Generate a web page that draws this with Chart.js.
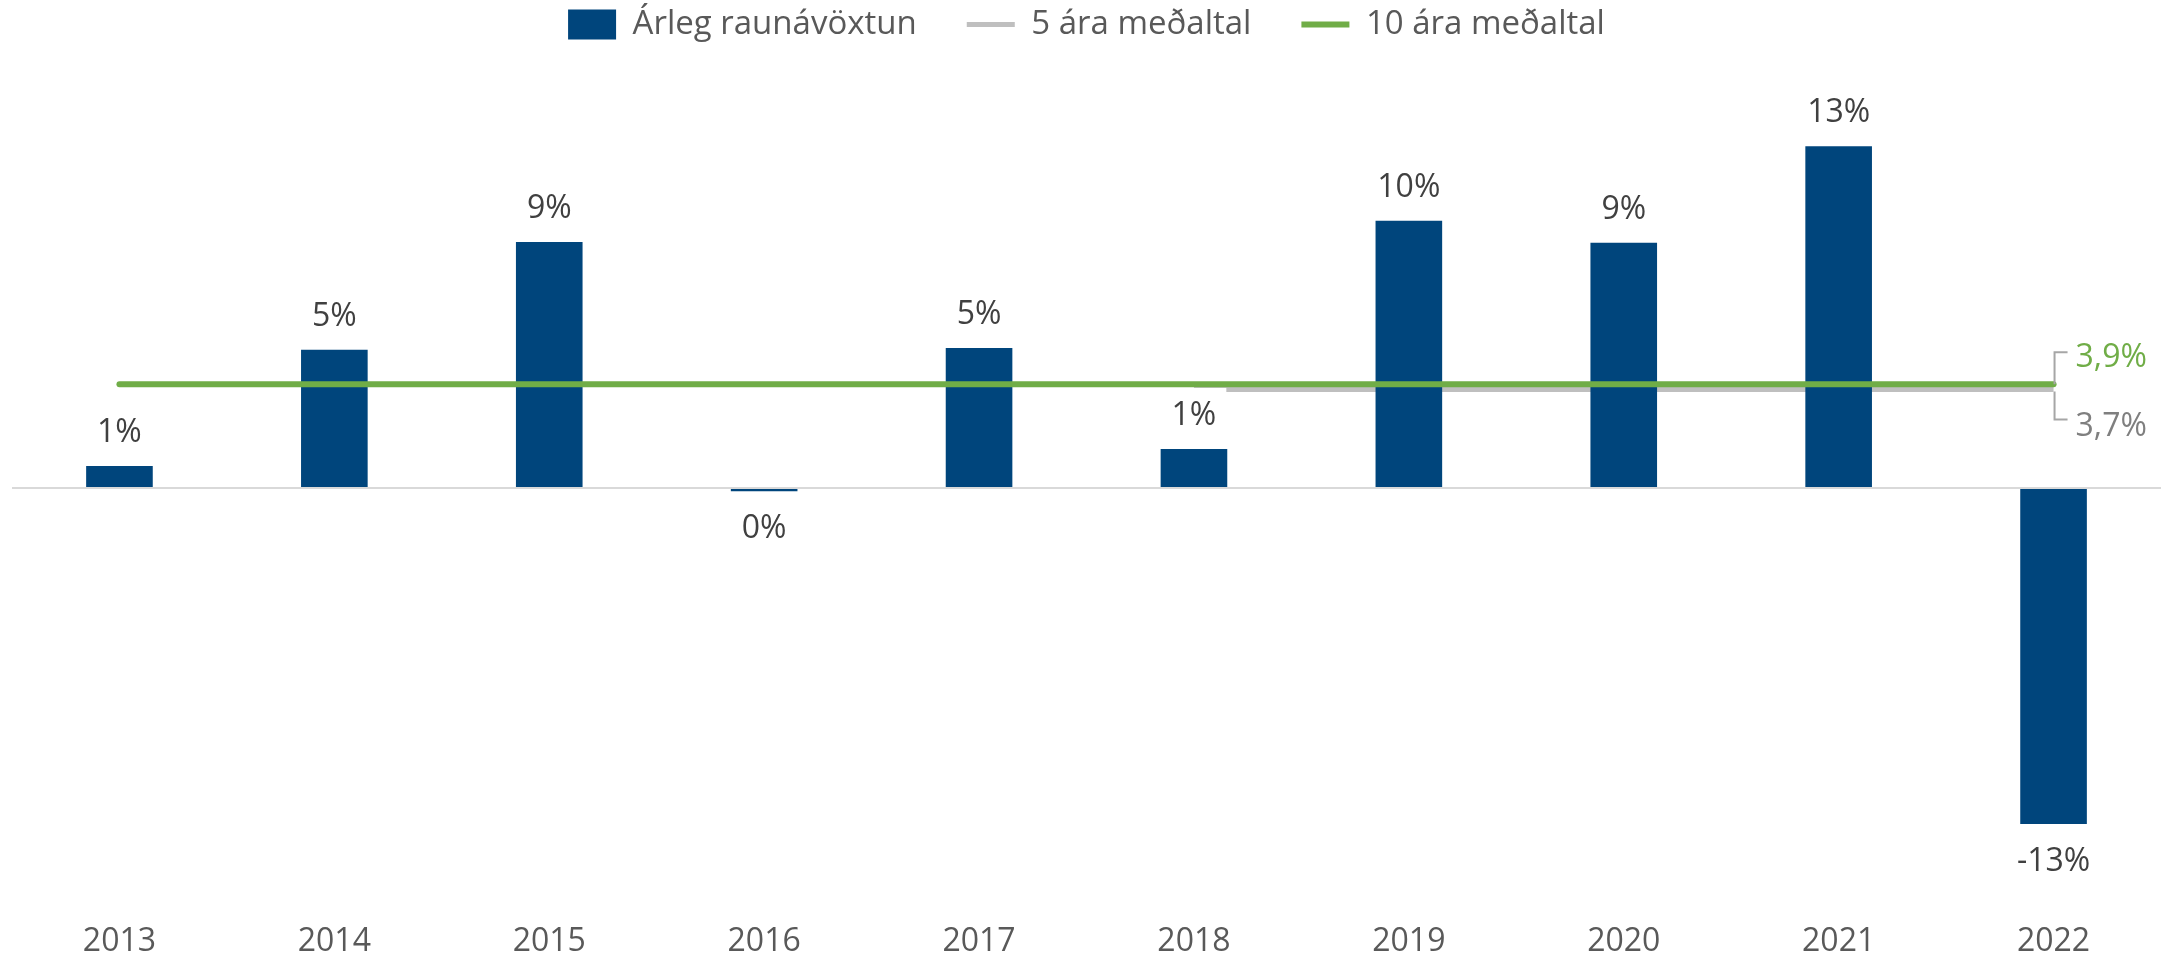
<!DOCTYPE html>
<html>
<head>
<meta charset="utf-8">
<script src="https://cdn.jsdelivr.net/npm/chart.js@4"></script>
<style>
  html, body { margin: 0; padding: 0; background: #fff; }
  #wrap { width: 2175px; height: 957px; }
</style>
</head>
<body>
<div id="wrap"><canvas id="chart" width="2175" height="957"></canvas></div>
<script>
const years = ['2013', '2014', '2015', '2016', '2017', '2018', '2019', '2020', '2021', '2022'];
const annualReturn = [0.83, 5.2, 9.25, -0.12, 5.26, 1.47, 10.05, 9.22, 12.85, -12.63];
const avg5 = [null, null, null, null, null, 3.7, 3.7, 3.7, 3.7, 3.7];
const avg10 = [3.9, 3.9, 3.9, 3.9, 3.9, 3.9, 3.9, 3.9, 3.9, 3.9];
const seriesNames = ['Árleg raunávöxtun', '5 ára meðaltal', '10 ára meðaltal'];
const endLabels = ['3,9%', '3,7%'];

const FONT = '"Open Sans", "Liberation Sans", sans-serif';
const BLUE = '#00457C';
const GREY = '#BFBFBF';
const GREEN = '#70AD47';

const pct = v => Math.round(v) + '%';

const labelPlugin = {
    id: 'labels',
    afterDatasetDraw(chart, args) {
        const ctx = chart.ctx;
        if (args.meta.type !== 'bar') return;
        ctx.save();
        ctx.font = '32px ' + FONT;
        ctx.textAlign = 'center';
        ctx.textBaseline = 'middle';
        args.meta.data.forEach((bar, i) => {
            const v = annualReturn[i];
            const text = pct(v);
            const y = v >= 0 ? bar.y - 34 : bar.y + 37;
            const w = ctx.measureText(text).width + 20;
            ctx.fillStyle = '#fff';
            ctx.fillRect(bar.x - w / 2, y - 27, w, 54);
            ctx.fillStyle = '#404040';
            ctx.fillText(text, bar.x, y + 1);
        });
        ctx.restore();
    },
    afterDatasetsDraw(chart) {
        const ctx = chart.ctx;
        const green = chart.getDatasetMeta(2).data;
        const grey = chart.getDatasetMeta(1).data;
        const g = green[green.length - 1];
        const s = grey[grey.length - 1];
        ctx.save();
        ctx.strokeStyle = '#A6A6A6';
        ctx.lineWidth = 2;
        ctx.beginPath();
        ctx.moveTo(g.x + 14, g.y - 32);
        ctx.lineTo(g.x + 1, g.y - 32);
        ctx.lineTo(g.x + 1, g.y);
        ctx.moveTo(s.x + 1, s.y + 2);
        ctx.lineTo(s.x + 1, s.y + 30);
        ctx.lineTo(s.x + 14, s.y + 30);
        ctx.stroke();
        ctx.font = '32px ' + FONT;
        ctx.textAlign = 'left';
        ctx.textBaseline = 'middle';
        ctx.fillStyle = GREEN;
        ctx.fillText(endLabels[0], g.x + 22, g.y - 26);
        ctx.fillStyle = '#7F7F7F';
        ctx.fillText(endLabels[1], s.x + 22, s.y + 37);
        ctx.restore();
    }
};

new Chart(document.getElementById('chart').getContext('2d'), {
    type: 'bar',
    data: {
        labels: years,
        datasets: [
            {
                type: 'bar',
                label: seriesNames[0],
                data: annualReturn,
                backgroundColor: BLUE,
                borderWidth: 0,
                barPercentage: 0.31,
                categoryPercentage: 1,
                pointStyle: 'rect',
                order: 2,
            },
            {
                type: 'line',
                label: seriesNames[1],
                data: avg5,
                borderColor: GREY,
                backgroundColor: GREY,
                borderWidth: 5,
                pointRadius: 0,
                pointStyle: 'line',
                order: 3,
            },
            {
                type: 'line',
                label: seriesNames[2],
                data: avg10,
                borderColor: GREEN,
                backgroundColor: GREEN,
                borderWidth: 6,
                borderCapStyle: 'round',
                pointRadius: 0,
                pointStyle: 'line',
                order: 1,
            },
        ],
    },
    options: {
        responsive: false,
        animation: false,
        layout: { padding: { left: 12, right: 14, top: -42, bottom: 0 } },
        plugins: {
            legend: {
                position: 'top',
                labels: {
                    usePointStyle: true,
                    pointStyleWidth: 48,
                    boxHeight: 30,
                    padding: 50,
                    color: '#595959',
                    font: { family: FONT, size: 33 },
                    sort: (a, b) => a.datasetIndex - b.datasetIndex,
                },
            },
            tooltip: { enabled: false },
        },
        scales: {
            x: {
                grid: { display: false },
                border: { display: false },
                ticks: { color: '#595959', font: { family: FONT, size: 32 }, padding: 28 },
                afterFit: s => { s.height = 70; },
            },
            y: {
                min: -15,
                max: 16.43,
                ticks: { display: false, stepSize: 1 },
                border: { display: false },
                grid: {
                    color: c => (c.tick && c.tick.value === 0 ? '#D9D9D9' : 'transparent'),
                    lineWidth: 2,
                    drawTicks: false,
                },
                afterFit: s => { s.width = 0; },
            },
        },
    },
    plugins: [labelPlugin],
});
</script>
</body>
</html>
